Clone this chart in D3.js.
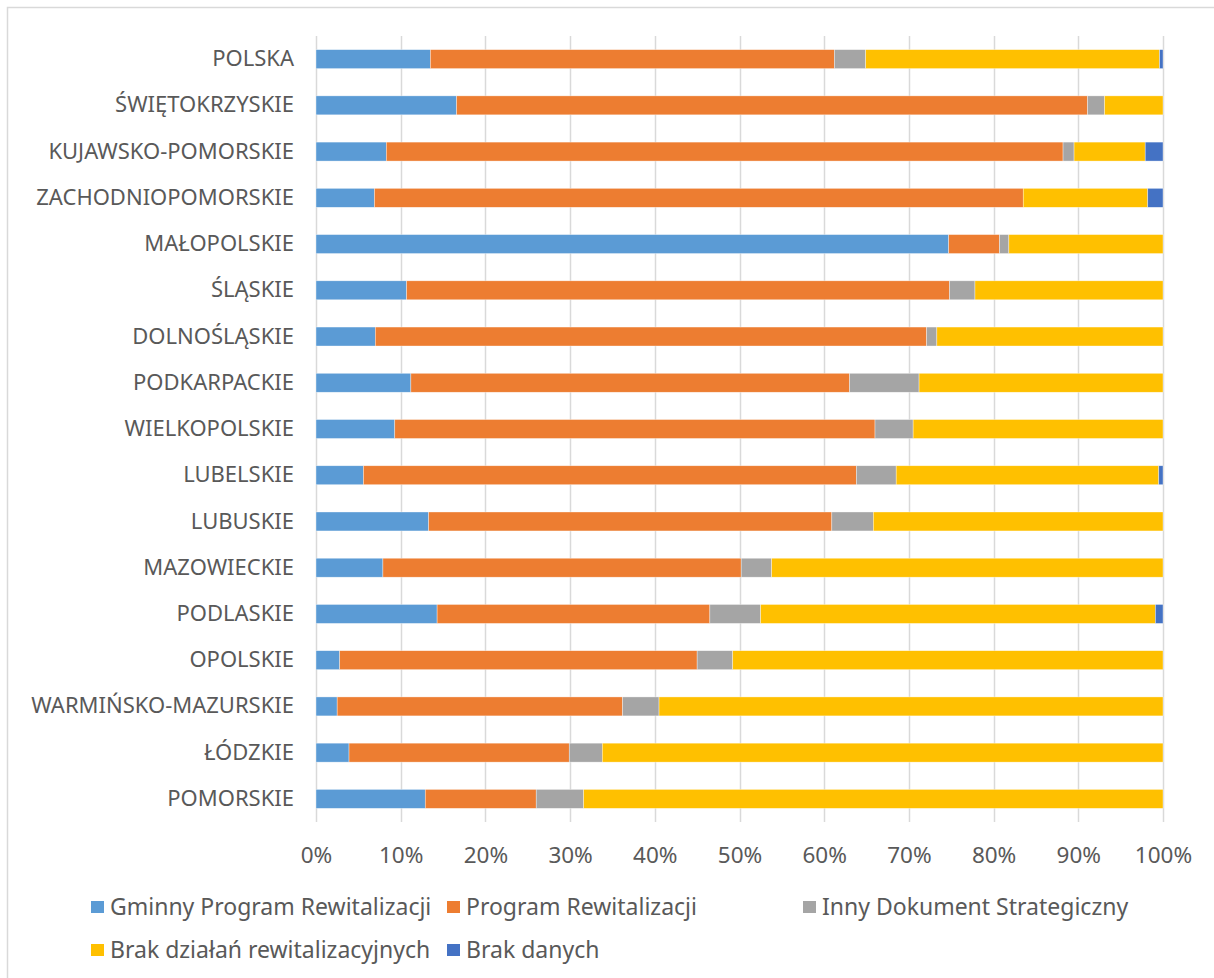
<!DOCTYPE html>
<html>
<head>
<meta charset="utf-8">
<script src="https://cdn.jsdelivr.net/npm/d3@7"></script>
<style>
  body { margin: 0; background: #fff; }
  text { font-family: "Noto Sans", "Open Sans", sans-serif; fill: #595959; }
</style>
</head>
<body>
<div id="chart-area"></div>
<script>

// Data (percent shares per voivodeship)
var regions = ["POLSKA", "ŚWIĘTOKRZYSKIE", "KUJAWSKO-POMORSKIE", "ZACHODNIOPOMORSKIE",
    "MAŁOPOLSKIE", "ŚLĄSKIE", "DOLNOŚLĄSKIE", "PODKARPACKIE", "WIELKOPOLSKIE",
    "LUBELSKIE", "LUBUSKIE", "MAZOWIECKIE", "PODLASKIE", "OPOLSKIE",
    "WARMIŃSKO-MAZURSKIE", "ŁÓDZKIE", "POMORSKIE"];

var seriesNames = ["Gminny Program Rewitalizacji", "Program Rewitalizacji",
    "Inny Dokument Strategiczny", "Brak działań rewitalizacyjnych", "Brak danych"];

var gminnyProgram = [13.5, 16.6, 8.3, 6.9, 74.7, 10.7, 7.0, 11.2, 9.3, 5.6, 13.3, 7.9, 14.3, 2.8, 2.5, 3.9, 12.9];
var programRew    = [47.7, 74.5, 79.9, 76.6, 6.0, 64.1, 65.1, 51.8, 56.7, 58.2, 47.6, 42.3, 32.2, 42.2, 33.7, 26.0, 13.1];
var innyDokument  = [3.7, 2.0, 1.3, 0.0, 1.1, 3.0, 1.2, 8.2, 4.5, 4.7, 4.9, 3.6, 6.0, 4.2, 4.3, 3.9, 5.6];
var brakDzialan   = [34.7, 6.9, 8.4, 14.7, 18.2, 22.2, 26.7, 28.8, 29.5, 31.0, 34.2, 46.2, 46.6, 50.8, 59.5, 66.2, 68.4];
var brakDanych    = [0.4, 0.0, 2.1, 1.8, 0.0, 0.0, 0.0, 0.0, 0.0, 0.5, 0.0, 0.0, 0.9, 0.0, 0.0, 0.0, 0.0];

var xTicks = [0, 0.1, 0.2, 0.3, 0.4, 0.5, 0.6, 0.7, 0.8, 0.9, 1];

var colors = ["#5B9BD5", "#ED7D31", "#A5A5A5", "#FFC000", "#4472C4"];

var allSeries = [gminnyProgram, programRew, innyDokument, brakDzialan, brakDanych];

// build table for the stack layout
var data = regions.map(function(r, i) {
    var row = {region: r};
    var total = 0;
    allSeries.forEach(function(s) { total += s[i]; });
    seriesNames.forEach(function(name, k) { row[name] = allSeries[k][i] / total; });
    return row;
});

// SVG drawing area
var svg = d3.select("#chart-area").append("svg")
    .attr("width", 1214)
    .attr("height", 978);

// chart frame
svg.append("rect")
    .attr("x", 7.5).attr("y", 7.5)
    .attr("width", 1220).attr("height", 1000)
    .attr("fill", "none")
    .attr("stroke", "#d9d9d9")
    .attr("stroke-width", 1.5);

var margin = {top: 36, left: 316};
var width = 847, height = 786;

var g = svg.append("g")
    .attr("transform", "translate(" + margin.left + "," + margin.top + ")");

// Scales
var x = d3.scaleLinear().domain([0, 1]).range([0, width]);
var y = d3.scaleBand().domain(regions).range([0, height]).paddingInner(0.59).paddingOuter(0.295);

// gridlines
g.selectAll(".grid")
    .data(xTicks)
  .enter().append("line")
    .attr("class", "grid")
    .attr("x1", function(d) { return Math.round(x(d)) + 0.5; })
    .attr("x2", function(d) { return Math.round(x(d)) + 0.5; })
    .attr("y1", 0)
    .attr("y2", height)
    .attr("stroke", "#d9d9d9")
    .attr("stroke-width", 1.5);

// stacked bars
var stack = d3.stack().keys(seriesNames);
var layers = stack(data);

var layer = g.selectAll(".layer")
    .data(layers)
  .enter().append("g")
    .attr("class", "layer")
    .attr("fill", function(d, i) { return colors[i]; });

layer.selectAll("rect")
    .data(function(d) { return d; })
  .enter().append("rect")
    .attr("x", function(d) { return x(d[0]); })
    .attr("y", function(d) { return y(d.data.region); })
    .attr("width", function(d) { return Math.max(0, x(d[1]) - x(d[0])); })
    .attr("height", y.bandwidth())
    .attr("stroke", "#fff")
    .attr("stroke-width", 0.6)
    .attr("stroke-opacity", 0.6);

// x axis
var xAxis = d3.axisBottom(x)
    .tickValues(xTicks)
    .tickFormat(d3.format(".0%"))
    .tickSize(0)
    .tickPadding(25);

g.append("g")
    .attr("class", "axis x-axis")
    .attr("transform", "translate(0," + height + ")")
    .call(xAxis)
    .call(function(a) { a.select(".domain").remove(); })
    .selectAll("text")
    .style("font-size", "22.5px")
    .style("fill", "#595959");

// y axis
var yAxis = d3.axisLeft(y).tickSize(0).tickPadding(22);

g.append("g")
    .attr("class", "axis y-axis")
    .call(yAxis)
    .call(function(a) { a.select(".domain").remove(); })
    .selectAll("text")
    .style("font-size", "22px")
    .style("fill", "#595959");

// legend
var legendPos = [[91, 907], [447, 907], [803, 907], [91, 950], [447, 950]];

var legend = svg.selectAll(".legend")
    .data(seriesNames)
  .enter().append("g")
    .attr("class", "legend")
    .attr("transform", function(d, i) { return "translate(" + legendPos[i][0] + "," + legendPos[i][1] + ")"; });

legend.append("rect")
    .attr("x", 0).attr("y", -6)
    .attr("width", 13).attr("height", 12)
    .attr("fill", function(d, i) { return colors[i]; });

legend.append("text")
    .attr("x", 19)
    .attr("dy", "0.35em")
    .style("font-size", "23px")
    .text(function(d) { return d; });

</script>
</body>
</html>
